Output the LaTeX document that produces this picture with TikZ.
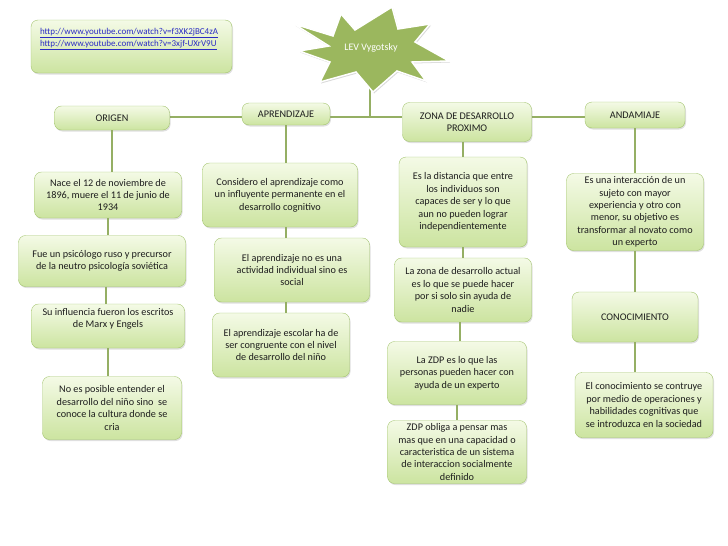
\documentclass[tikz,border=0pt]{standalone}
\usepackage{fontspec}
\setmainfont{Carlito}
\usepackage{tikz}
\usetikzlibrary{shadows, positioning, calc, backgrounds}
\definecolor{boxline}{HTML}{A3C46E}
\definecolor{boxtop}{HTML}{F4FAE6}
\definecolor{boxbottom}{HTML}{CCE4A0}
\definecolor{linkgreen}{HTML}{95AF64}
\definecolor{starfill}{HTML}{9BB75E}
\definecolor{urlblue}{HTML}{2B2BC4}
\definecolor{inkgray}{HTML}{1E1E1E}

\begin{document}
\begin{tikzpicture}[
    x=1pt, y=-1pt,
    idea/.style={rectangle, rounded corners=7pt, draw=boxline, top color=boxtop, bottom color=boxbottom, drop shadow={opacity=0.25, shadow xshift=1pt, shadow yshift=-1.5pt}, align=center, inner sep=2pt, text=inkgray, font=\fontsize{10.2}{12.4}\selectfont},
    link/.style={line width=2.5pt, color=linkgreen},
    starburst/.style={fill=starfill, draw=white, line width=1.5pt, line join=miter, drop shadow={opacity=0.3, shadow xshift=1pt, shadow yshift=-1.5pt}}
]
\useasboundingbox (0,0) rectangle (728,546);

% Links box
\node[idea, minimum width=201pt, minimum height=53pt, inner xsep=9pt, inner ysep=4pt] (urls) at (131.5,46.5) {\parbox[c][44pt][t]{183pt}{\raggedright\fontsize{9}{12}\selectfont
\vspace*{4pt}%
{\color{urlblue}\underline{http://www.youtube.com/watch?v=f3XK2jBC4zA}}\\
{\color{urlblue}\underline{http://www.youtube.com/watch?v=3xjf-UXrV9U}}}};

% Headings
\node[idea, minimum width=115pt, minimum height=24pt] (origen) at (112,118) {ORIGEN};
\node[idea, minimum width=88pt, minimum height=22pt] (aprend) at (286,114) {APRENDIZAJE};
\node[idea, minimum width=129pt, minimum height=39pt] (zona) at (467,122) {ZONA DE DESARROLLO\\PROXIMO};
\node[idea, minimum width=100pt, minimum height=26pt] (andam) at (635,115) {ANDAMIAJE};

% Origen
\node[idea, minimum width=147pt, minimum height=46pt] (o1) at (108,195) {Nace el 12 de noviembre de\\1896, muere el 11 de junio de\\1934};
\node[idea, minimum width=167pt, minimum height=51pt] (o2) at (102,261) {Fue un psicólogo ruso y precursor\\de la neutro psicología soviética};
\node[idea, minimum width=153pt, minimum height=44pt] (o3) at (108,326) {Su influencia fueron los escritos\\de Marx y Engels\\[4pt]};
\node[idea, minimum width=139pt, minimum height=63pt] (o4) at (112,408) {No es posible entender el\\desarrollo del niño sino~ se\\conoce la cultura donde se\\cria};

% Aprendizaje
\node[idea, minimum width=155pt, minimum height=64pt] (a1) at (280,195) {Considero el aprendizaje como\\un influyente permanente en el\\desarrollo cognitivo};
\node[idea, minimum width=155pt, minimum height=64pt] (a2) at (292,270) {El aprendizaje no es una\\actividad individual sino es\\social};
\node[idea, minimum width=137pt, minimum height=64pt] (a3) at (281,345) {El aprendizaje escolar ha de\\ser congruente con el nivel\\de desarrollo del niño};

% Zona de desarrollo proximo
\node[idea, minimum width=128pt, minimum height=90pt] (z1) at (463,202) {Es la distancia que entre\\los individuos son\\capaces de ser y lo que\\aun no pueden lograr\\independientemente};
\node[idea, minimum width=137pt, minimum height=64pt] (z2) at (463,290) {La zona de desarrollo actual\\es lo que se puede hacer\\por si solo sin ayuda de\\nadie};
\node[idea, minimum width=139pt, minimum height=63pt] (z3) at (457,373) {La ZDP es lo que las\\personas pueden hacer con\\ayuda de un experto};
\node[idea, minimum width=139pt, minimum height=63pt] (z4) at (457,452) {ZDP obliga a pensar mas\\mas que en una capacidad o\\caracteristica de un sistema\\de interaccion socialmente\\definido};

% Andamiaje
\node[idea, minimum width=137pt, minimum height=77pt] (n1) at (635,212) {Es una interacción de un\\sujeto con mayor\\experiencia y otro con\\menor, su objetivo es\\transformar al novato como\\un experto};
\node[idea, minimum width=126pt, minimum height=50pt] (n2) at (635,317) {CONOCIMIENTO};
\node[idea, minimum width=138pt, minimum height=65pt] (n3) at (644,405) {El conocimiento se contruye\\por medio de operaciones y\\habilidades cognitivas que\\se introduzca en la sociedad};

% Connectors
\coordinate (hub) at (370,117);
\begin{scope}[on background layer]
\draw[link] (origen.east |- hub) -- (aprend.west |- hub);
\draw[link] (aprend.east |- hub) -- (zona.west |- hub);
\draw[link] (zona.east |- hub) -- (andam.west |- hub);
\draw[link] (370,60) -- (hub);
\end{scope}

\draw[link] (origen.south) -- (origen.south |- o1.north);
\draw[link] (o1.south) -- (o1.south |- o2.north);
\draw[link] ([xshift=4pt]o2.south) -- ([xshift=4pt]o2.south |- o3.north);
\draw[link] (o3.south) -- (o3.south |- o4.north);

\draw[link] (aprend.south) -- (aprend.south |- a1.north);
\draw[link] ([xshift=6pt]a1.south) -- ([xshift=6pt]a1.south |- a2.north);
\draw[link] ([xshift=-6pt]a2.south) -- ([xshift=-6pt]a2.south |- a3.north);

\draw[link] ([xshift=-4pt]zona.south) -- ([xshift=-4pt]zona.south |- z1.north);
\draw[link] (z1.south) -- (z1.south |- z2.north);
\draw[link] ([xshift=-3pt]z2.south) -- ([xshift=-3pt]z2.south |- z3.north);
\draw[link] (z3.south) -- (z3.south |- z4.north);

\draw[link] (andam.south) -- (andam.south |- n1.north);
\draw[link] (n1.south) -- (n1.south |- n2.north);
\draw[link] (n2.south) -- (n2.south |- n3.north);

% Star
\draw[starburst] (294,24) -- (333,36) -- (341,14) -- (355,30) -- (392,7) -- (398,29)
  -- (430,24) -- (415,42) -- (449,61) -- (412,62) -- (426,81) -- (397,71)
  -- (373,92) -- (356,72) -- (320,82) -- (330,62) -- (299,51) -- (329,46) -- cycle;
\node[font=\fontsize{10}{12}\selectfont, text=white] (lev) at (371,48) {LEV Vygotsky};

\end{tikzpicture}
\end{document}
